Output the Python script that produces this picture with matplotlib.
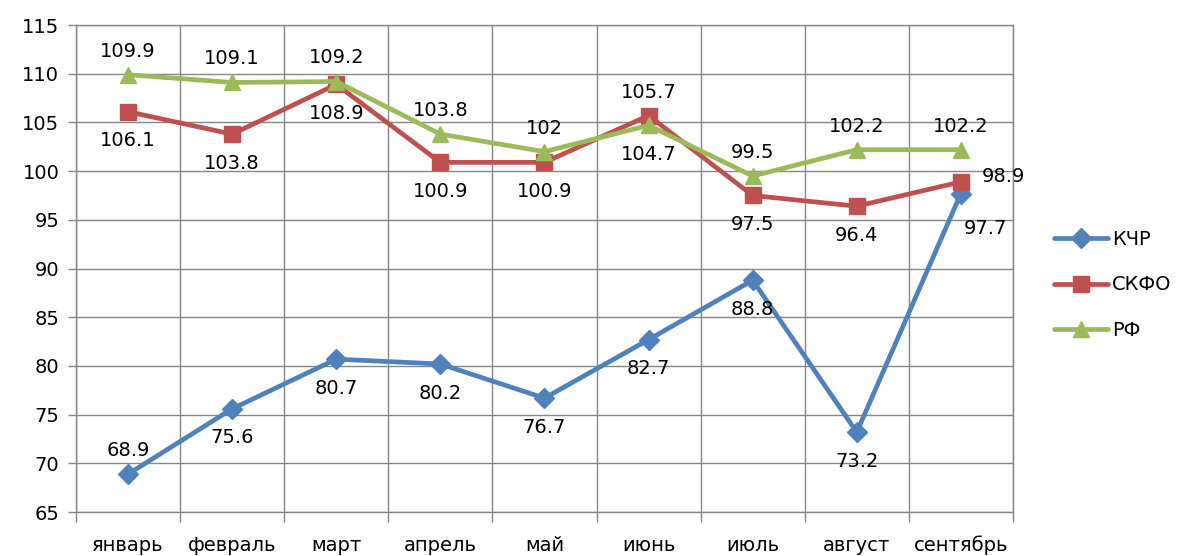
import matplotlib.pyplot as plt
import numpy as np

months = ['январь', 'февраль', 'март', 'апрель', 'май', 'июнь', 'июль', 'август', 'сентябрь']
kchr = [68.9, 75.6, 80.7, 80.2, 76.7, 82.7, 88.8, 73.2, 97.7]
skfo = [106.1, 103.8, 108.9, 100.9, 100.9, 105.7, 97.5, 96.4, 98.9]
rf = [109.9, 109.1, 109.2, 103.8, 102.0, 104.7, 99.5, 102.2, 102.2]

# label placement per point: a = above, b = below, r = right, br = below-right
kchr_pos = ['a', 'b', 'b', 'b', 'b', 'b', 'b', 'b', 'br']
skfo_pos = ['b', 'b', 'b', 'b', 'b', 'a', 'b', 'b', 'r']
rf_pos = ['a', 'a', 'a', 'a', 'a', 'b', 'a', 'a', 'a']

offsets = {'a': (0, 17), 'b': (0, -21), 'r': (31, 4), 'br': (18, -25)}

grid_c = '#868686'

plt.rcParams['font.family'] = ['DejaVu Sans']
fig = plt.figure(figsize=(11.77, 5.56), dpi=100)
ax = fig.add_axes([0.0646, 0.079, 0.796, 0.876])

x = np.arange(len(months))
series = [
    ('КЧР', kchr, kchr_pos, '#4F81BD', 'D', 10),
    ('СКФО', skfo, skfo_pos, '#C0504D', 's', 11),
    ('РФ', rf, rf_pos, '#9BBB59', '^', 12),
]
for name, vals, pos, color, marker, ms in series:
    ax.plot(x, vals, color=color, lw=3.4, marker=marker, ms=ms, label=name,
            solid_capstyle='round')
    for xi, v, p in zip(x, vals, pos):
        ax.annotate(f'{v:g}', (xi, v), xytext=offsets[p], textcoords='offset points',
                    ha='center', va='center', fontsize=14)

ax.set_xlim(-0.5, len(months) - 0.5)
ax.set_ylim(65, 115)
ax.set_yticks(np.arange(65, 116, 5))
ax.set_xticks(x)
ax.set_xticklabels(months, fontsize=14)
ax.set_xticks(np.arange(-0.5, len(months), 1), minor=True)
ax.tick_params(axis='x', which='major', length=0, pad=17)
ax.tick_params(axis='x', which='minor', length=7, width=1, color=grid_c)
ax.tick_params(axis='y', labelsize=14, length=6, width=1, color=grid_c, pad=6)

ax.grid(True, axis='y', color=grid_c, lw=1)
ax.grid(True, axis='x', which='minor', color=grid_c, lw=1)
for s in ax.spines.values():
    s.set_color(grid_c)
    s.set_linewidth(1)
ax.set_axisbelow(True)

fig.legend(loc='center left', bbox_to_anchor=(1036 / 1177, 1 - 285 / 556),
           frameon=False, fontsize=14, handlelength=2.8, labelspacing=1.35,
           handletextpad=0.2)

fig.savefig('out.png', dpi=100)
